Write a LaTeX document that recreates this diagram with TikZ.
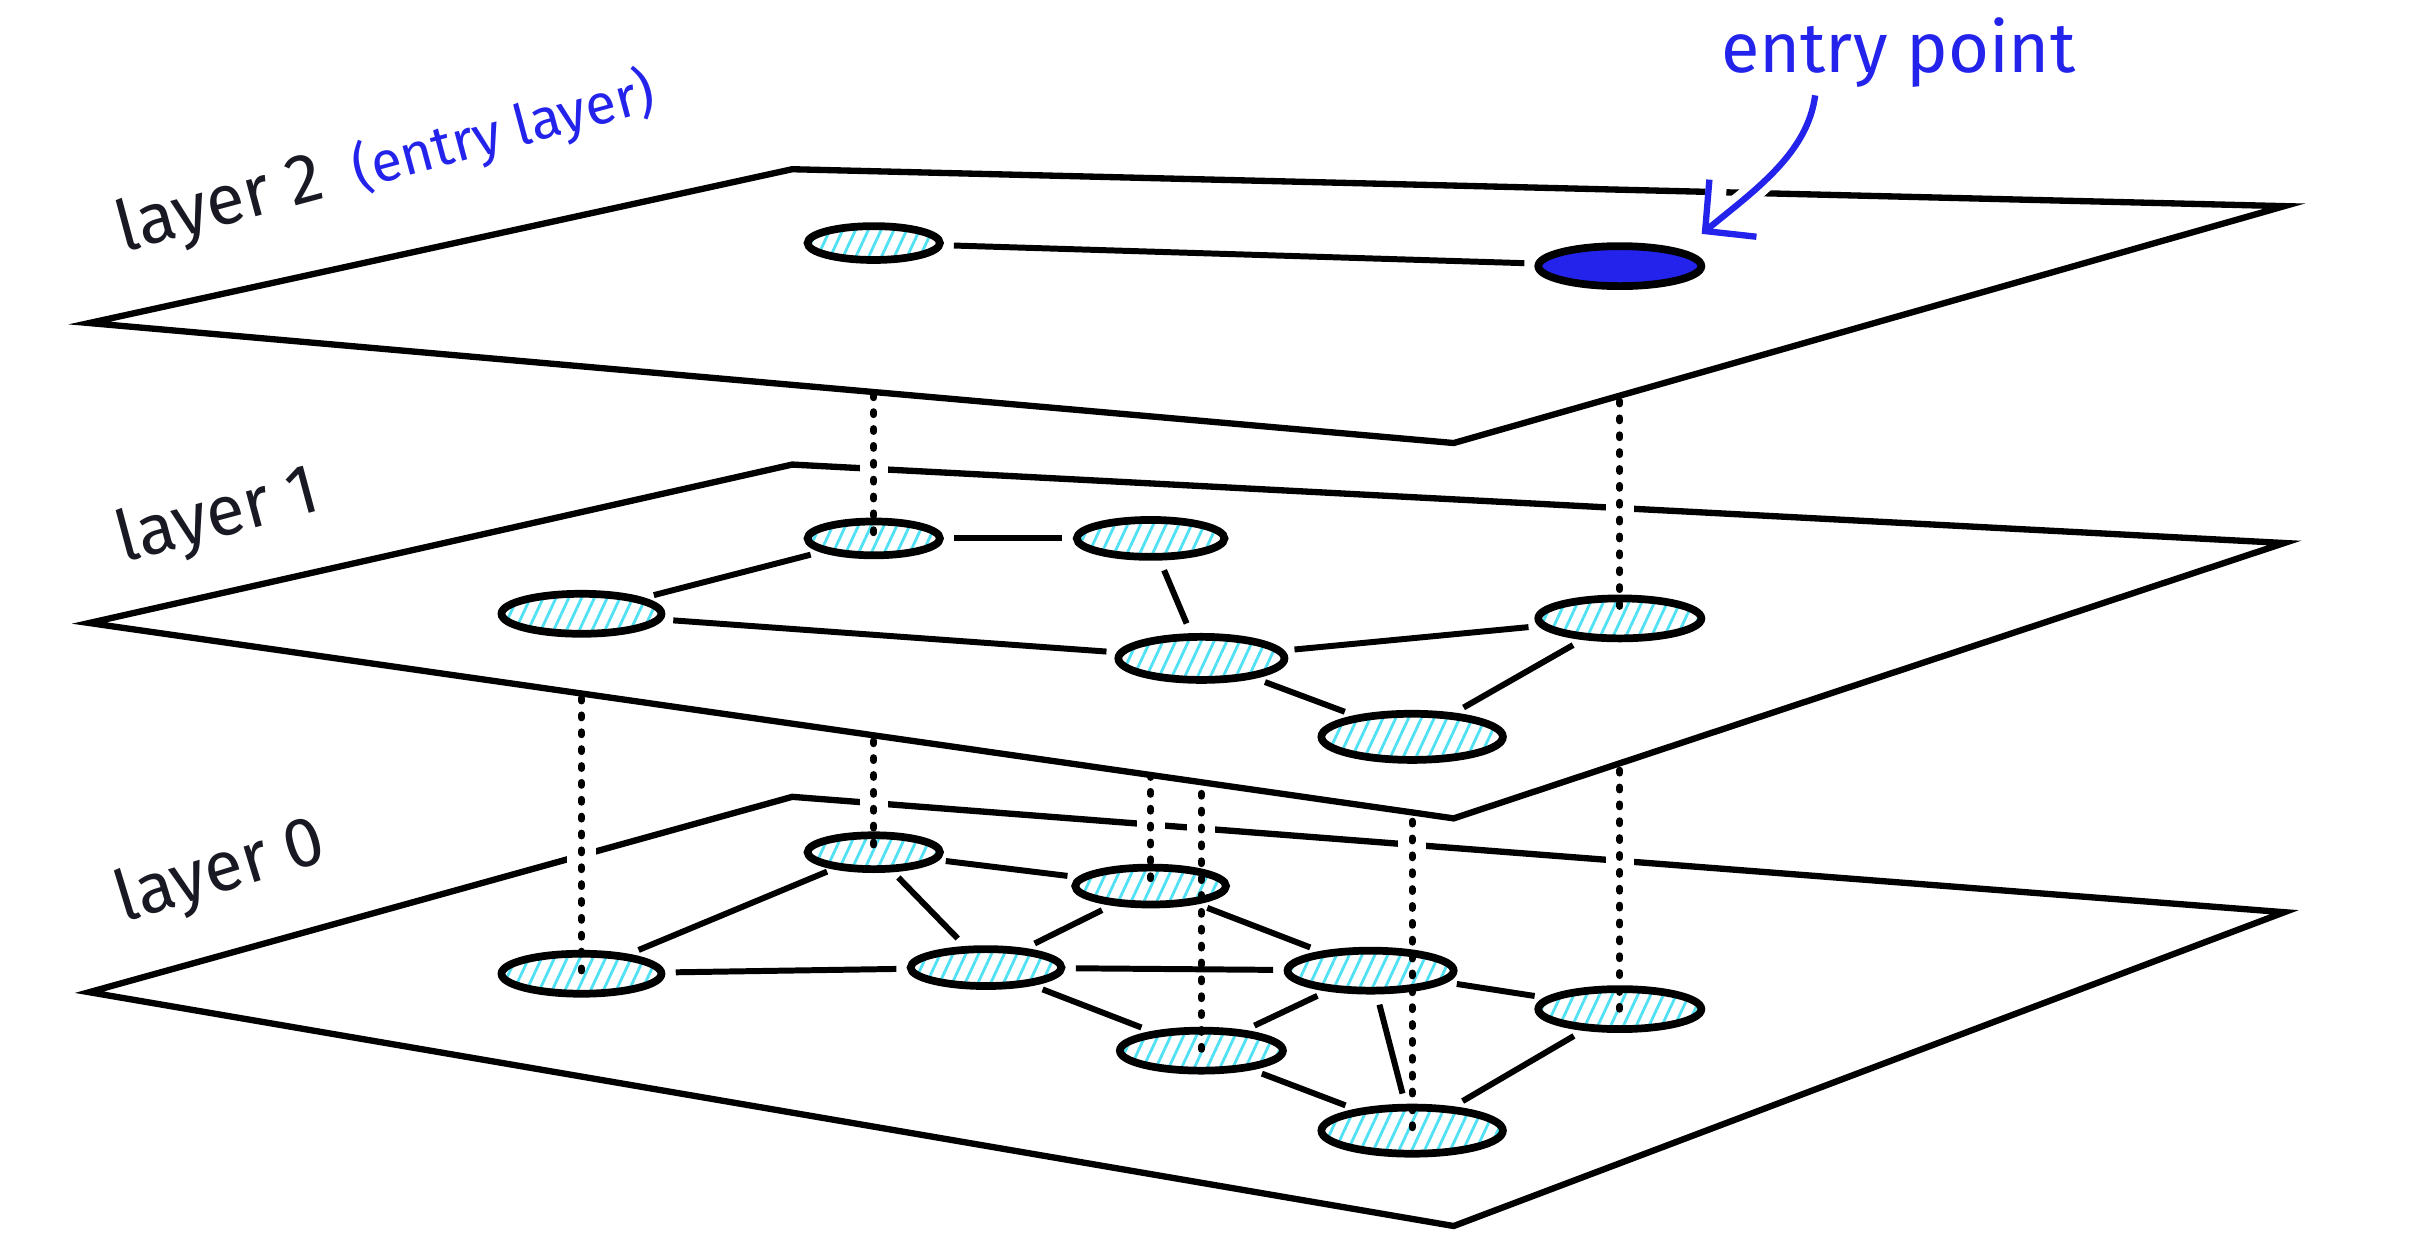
\documentclass[tikz,border=0pt]{standalone}
\usepackage{fontspec}
\setmainfont{Fira Sans}
\usetikzlibrary{arrows.meta, shapes.geometric, patterns.meta}
\definecolor{myink}{RGB}{25,25,35}
\definecolor{myblue}{RGB}{35,35,235}
\definecolor{myhatch}{RGB}{80,225,245}
\newcommand{\pxu}{0.15383mm}
\tikzset{
  plane/.style={draw=black, fill=white, line width=1.8pt, line join=miter},
  vnode/.style 2 args={ellipse, draw=black, line width=2.2pt, inner sep=0pt,
    minimum width=#1*\pxu, minimum height=#2*\pxu,
    pattern={Lines[angle=65, distance=3.3pt, line width=0.8pt]}, pattern color=myhatch},
  entrynode/.style 2 args={ellipse, draw=black, fill=myblue, line width=2.2pt, inner sep=0pt,
    minimum width=#1*\pxu, minimum height=#2*\pxu},
  link/.style={line width=1.7pt, color=black, shorten <=3pt, shorten >=3pt},
  uplink/.style={line width=2pt, color=black, line cap=round, dash pattern=on 0.8pt off 4pt},
  halo/.style={draw=white, line width=8pt},
  lbl/.style={font=\fontsize{20}{24}\selectfont, text=myink, inner sep=0pt},
  arrow/.style={-{Straight Barb[length=3.6mm, width=7.4mm]}, line width=1.8pt, color=myblue}
}

\begin{document}
\begin{tikzpicture}[x=\pxu, y=-\pxu]
  \fill[white] (0,0) rectangle (1568,807);
  \useasboundingbox (0,0) rectangle (1568,807);

  % node positions
  \foreach \n/\x/\y in {A2/568/158, E2/1053/173,
      A1/568/350, B1/748/350, C1/378/399, D1/781/428, E1/1053/402, F1/918/479,
      A0/568/554, B0/748/576, C0/378/633, S0/641/629, T0/891/631,
      E0/1053/656, D0/781/683, F0/918/735}
    \coordinate (p\n) at (\x,\y);

  % Layer 0
  \draw[plane] (58,645) -- (515,518) -- (1485,593) -- (945,797) -- cycle;
  \foreach \n in {A,B,C,D,E,F}
    \draw[halo] (p\n1) -- (p\n0);
  \node[vnode={86}{22}] (A0) at (pA0) {};
  \node[vnode={98}{24}] (B0) at (pB0) {};
  \node[vnode={104}{26}] (C0) at (pC0) {};
  \node[vnode={98}{24}] (S0) at (pS0) {};
  \node[vnode={108}{26}] (T0) at (pT0) {};
  \node[vnode={106}{26}] (E0) at (pE0) {};
  \node[vnode={106}{26}] (D0) at (pD0) {};
  \node[vnode={118}{30}] (F0) at (pF0) {};
  \foreach \a/\b in {C0/A0, C0/S0, A0/S0, A0/B0, B0/S0, B0/T0, S0/T0,
      S0/D0, T0/D0, T0/E0, T0/F0, D0/F0, E0/F0}
    \draw[link] (\a) -- (\b);
  \foreach \n in {A,B,C,D,E,F}
    \draw[uplink] (p\n1) -- (\n0.center);

  % Layer 1
  \draw[plane] (58,405) -- (515,302) -- (1485,353) -- (945,532) -- cycle;
  \foreach \n in {A,E}
    \draw[halo] (p\n2) -- (p\n1);
  \node[vnode={86}{22}] (A1) at (pA1) {};
  \node[vnode={96}{24}] (B1) at (pB1) {};
  \node[vnode={104}{26}] (C1) at (pC1) {};
  \node[vnode={108}{28}] (D1) at (pD1) {};
  \node[vnode={106}{26}] (E1) at (pE1) {};
  \node[vnode={118}{30}] (F1) at (pF1) {};
  \foreach \a/\b in {C1/A1, A1/B1, B1/D1, C1/D1, D1/E1, D1/F1, E1/F1}
    \draw[link] (\a) -- (\b);
  \foreach \n in {A,E}
    \draw[uplink] (p\n2) -- (\n1.center);

  % Layer 2
  \draw[plane] (58,210) -- (515,110) -- (1485,134) -- (945,288) -- cycle;
  \node[vnode={86}{22}] (A2) at (pA2) {};
  \node[entrynode={106}{26}] (E2) at (pE2) {};
  \draw[link] (A2) -- (E2);

  % Labels
  \node[lbl, rotate=15, anchor=base west] (lbl2) at (80,164)
    {layer 2\hspace{0.2em} {\color{myblue}\fontsize{16}{19}\selectfont(entry layer)}};
  \node[lbl, rotate=15, anchor=base west] (lbl1) at (80,366) {layer 1};
  \node[lbl, rotate=17, anchor=base west] (lbl0) at (80,600) {layer 0};
  \node[lbl, text=myblue, anchor=base] (entrypt) at (1234,47) {entry point};

  % Entry arrow
  \coordinate (tail) at (1180,62);
  \coordinate (head) at ([shift={(14,-10)}]E2.north east);
  \draw[arrow, color=white, line width=6pt] (tail) .. controls +(-5,38) and +(34,-28) .. (head);
  \draw[arrow] (tail) .. controls +(-5,38) and +(34,-28) .. (head);
\end{tikzpicture}
\end{document}
